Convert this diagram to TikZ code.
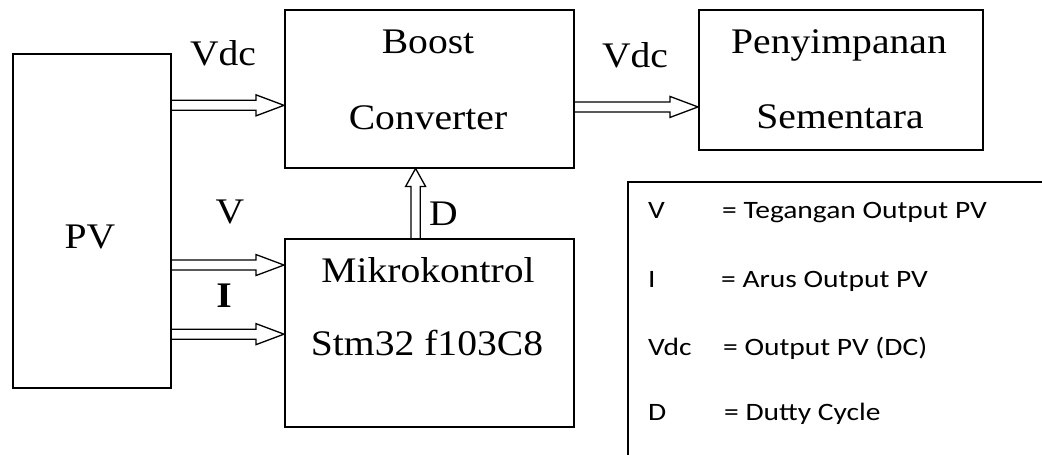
\documentclass[tikz,border=0pt]{standalone}
\usepackage{fontspec}
\usepackage{graphicx}
\setmainfont{Liberation Serif}
\newfontfamily\legfont{Carlito}
\usetikzlibrary{calc}
\newcommand\srx[1]{\scalebox{1.1}[1]{#1}}
\newcommand\legx[1]{\scalebox{1.18}[1]{#1}}
% hollow double-line arrow, horizontal, from #1 to #2 (same height)
\newcommand\harr[2]{\draw[arr] let \p1=(#1), \p2=(#2) in
  (\x1,\y1+5pt) -- (\x2-28pt,\y1+5pt) -- (\x2-28pt,\y1+10.5pt) -- (\x2,\y1)
  -- (\x2-28pt,\y1-10.5pt) -- (\x2-28pt,\y1-5pt) -- (\x1,\y1-5pt);}
% hollow double-line arrow, upward, from #1 to #2
\newcommand\varr[2]{\draw[arr] let \p1=(#1), \p2=(#2) in
  (\x1-4.7pt,\y1) -- (\x1-4.7pt,\y2-18pt) -- (\x1-10pt,\y2-18pt) -- (\x1,\y2)
  -- (\x1+10pt,\y2-18pt) -- (\x1+4.7pt,\y2-18pt) -- (\x1+4.7pt,\y1);}
\begin{document}
\begin{tikzpicture}[x=1pt,y=-1pt,
  box/.style={draw, line width=1.5pt, inner sep=0pt, anchor=north west},
  txt/.style={inner sep=0pt, anchor=base, font=\fontsize{36}{40}\selectfont},
  legt/.style={inner sep=0pt, anchor=base west, font=\legfont\fontsize{25}{28}\selectfont},
  arr/.style={line width=1.3pt, line join=miter}]
\useasboundingbox (0,0) rectangle (1042,455);
\clip (0,0) rectangle (1042,455);
\fill[white] (0,0) rectangle (1042,455);

% blocks
\node[box, minimum width=158pt, minimum height=334pt] (pv) at (12,53) {};
\node[box, minimum width=289pt, minimum height=158pt] (boost) at (284,9) {};
\node[box, minimum width=284pt, minimum height=140pt] (pen) at (698,9) {};
\node[box, minimum width=289pt, minimum height=188pt] (mk) at (284,238) {};
\node[box, minimum width=500pt, minimum height=400pt] (legend) at (627,181) {};

% block texts
\node[txt] (tpv) at (90,248) {\srx{PV}};
\node[txt] (tb1) at (428,53) {\srx{Boost}};
\node[txt] (tb2) at (428,129) {\srx{Converter}};
\node[txt] (tp1) at (839,53) {\srx{Penyimpanan}};
\node[txt] (tp2) at (840,128) {\srx{Sementara}};
\node[txt] (tm1) at (428,282) {\srx{Mikrokontrol}};
\node[txt] (tm2) at (427,355) {\srx{Stm32 f103C8}};

% connector labels
\node[txt] (lvdc1) at (223,65) {\srx{Vdc}};
\node[txt] (lvdc2) at (635,67) {\srx{Vdc}};
\node[txt] (lv) at (230,223) {\srx{V}};
\node[txt] (li) at (224,307) {\srx{\textbf{I}}};
\node[txt, anchor=base west] (ld) at (429,225) {\srx{D}};

% connector end points
\coordinate (s1) at ($(pv.north east)!0.156!(pv.south east)$);
\coordinate (e1) at (boost.west |- s1);
\coordinate (s2) at ($(pv.north east)!0.632!(pv.south east)$);
\coordinate (e2) at (mk.west |- s2);
\coordinate (s3) at ($(pv.north east)!0.838!(pv.south east)$);
\coordinate (e3) at (mk.west |- s3);
\coordinate (s4) at ($(boost.north east)!0.614!(boost.south east)$);
\coordinate (e4) at (pen.west |- s4);
\coordinate (s5) at ($(mk.north west)!0.453!(mk.north east)$);
\coordinate (e5) at (boost.south -| s5);

\harr{s1}{e1}
\harr{s2}{e2}
\harr{s3}{e3}
\harr{s4}{e4}
\varr{s5}{e5}

% legend
\node[legt] (k1) at (648,218) {\legx{V}};
\node[legt] (d1) at (722,218) {\legx{= Tegangan Output PV}};
\node[legt] (k2) at (648,287) {\legx{I}};
\node[legt] (d2) at (721,287) {\legx{= Arus Output PV}};
\node[legt] (k3) at (648,355) {\legx{Vdc}};
\node[legt] (d3) at (723,355) {\legx{= Output PV (DC)}};
\node[legt] (k4) at (648,420) {\legx{D}};
\node[legt] (d4) at (724,420) {\legx{= Dutty Cycle}};
\end{tikzpicture}
\end{document}
